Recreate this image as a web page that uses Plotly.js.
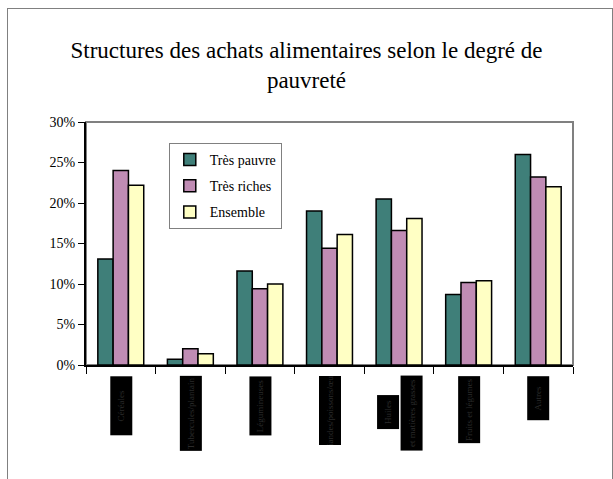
<!DOCTYPE html>
<html>
<head>
<meta charset="utf-8">
<script src="https://cdn.plot.ly/plotly-3.0.1.min.js"></script>
<style>
html,body{margin:0;padding:0;background:#fff;}
#frame{position:absolute;left:7px;top:8px;width:604px;height:480px;border-left:1px solid #808080;border-top:1px solid #808080;border-right:1px solid #808080;pointer-events:none;}
#chart{position:absolute;left:0;top:0;width:613px;height:479px;}
</style>
</head>
<body>
<div id="chart"></div>
<div id="frame"></div>
<script>
const categories = ["Céréales", "Tubercules/plantain", "Légumineuses", "Viandes/poissons", "Huiles", "Fruits/légumes", "Autres"];
const labelLines = [["Céréales"], ["Tubercules/plantain"], ["Légumineuses"], ["Viandes/poissons/œufs"], ["Huiles", "et matières grasses"], ["Fruits et légumes"], ["Autres"]];
const seriesNames = ["Très pauvre", "Très riches", "Ensemble"];
const tresPauvre = [13.1, 0.7, 11.6, 19.0, 20.5, 8.7, 26.0];
const tresRiches = [24.0, 2.0, 9.4, 14.4, 16.6, 10.2, 23.2];
const ensemble = [22.2, 1.4, 10.0, 16.1, 18.1, 10.4, 22.0];
const yTicks = [0, 5, 10, 15, 20, 25, 30];

const colors = ["#3f7f79", "#c08cb4", "#ffffc4"];
const serif = "'Liberation Serif', 'Times New Roman', serif";
const values = [tresPauvre, tresRiches, ensemble];

const traces = values.map((v, i) => ({
  type: "bar",
  name: seriesNames[i],
  x: categories,
  y: v,
  legendgroup: "g" + i,
  marker: {color: colors[i], line: {color: "#000", width: 1.5}},
  hoverinfo: "x+y+name"
}));

const boxLens = [[59], [75], [59], [69], [34, 75], [67], [44]];
const boxShift = [[0], [0], [0], [0], [-11, 12], [0], [0]];
const boxTop = [[376], [376], [376], [376], [395, 376], [376], [376]];
const plotTop = 122, plotBottom = 365;
const annotations = [];
labelLines.forEach((lines, ci) => {
  lines.forEach((t, li) => {
    annotations.push({
      x: categories[ci], xref: "x",
      y: (plotBottom - boxTop[ci][li]) / (plotBottom - plotTop), yref: "paper",
      xanchor: "center", yanchor: "top",
      xshift: boxShift[ci][li],
      text: t, textangle: -90,
      width: boxLens[ci][li], height: 22,
      bgcolor: "#000", borderpad: 0, borderwidth: 0,
      showarrow: false,
      font: {family: serif, size: 9, color: "#2b2b2b"}
    });
  });
});

const layout = {
  width: 613, height: 479,
  margin: {l: 86, r: 40, t: 122, b: 114},
  paper_bgcolor: "#fff", plot_bgcolor: "#fff",
  font: {family: serif, color: "#000"},
  title: {
    text: "Structures des achats alimentaires selon le degré de<br>pauvreté",
    font: {family: serif, size: 23, color: "#000"},
    x: 0.5, xref: "container", xanchor: "center",
    y: 1 - 58 / 479, yref: "container", yanchor: "middle"
  },
  barmode: "group", bargap: 0.34, bargroupgap: 0,
  showlegend: true,
  legend: {
    x: 0.17, y: 0.914, xanchor: "left", yanchor: "top",
    bgcolor: "#fff", bordercolor: "#808080", borderwidth: 1,
    font: {family: serif, size: 14, color: "#000"},
    traceorder: "grouped", tracegroupgap: 5
  },
  xaxis: {
    type: "category", showticklabels: false,
    ticks: "outside", ticklen: 7, tickcolor: "#000", tickwidth: 1,
    tickson: "boundaries",
    showline: true, linecolor: "#000", linewidth: 2,
    showgrid: false, zeroline: false, fixedrange: true
  },
  yaxis: {
    range: [0, 30], tickvals: yTicks, ticktext: yTicks.map(v => v + "%"),
    ticks: "outside", ticklen: 6, tickcolor: "#000", tickwidth: 1,
    showline: true, linecolor: "#000", linewidth: 2,
    showgrid: false, zeroline: false,
    tickfont: {family: serif, size: 14, color: "#000"},
    fixedrange: true
  },
  shapes: [{
    type: "rect", xref: "paper", yref: "paper", x0: 0, x1: 1, y0: 0, y1: 1,
    line: {color: "#808080", width: 2}, layer: "below"
  }],
  annotations: annotations
};

Plotly.newPlot("chart", traces, layout, {displayModeBar: false, staticPlot: true});
</script>
</body>
</html>
